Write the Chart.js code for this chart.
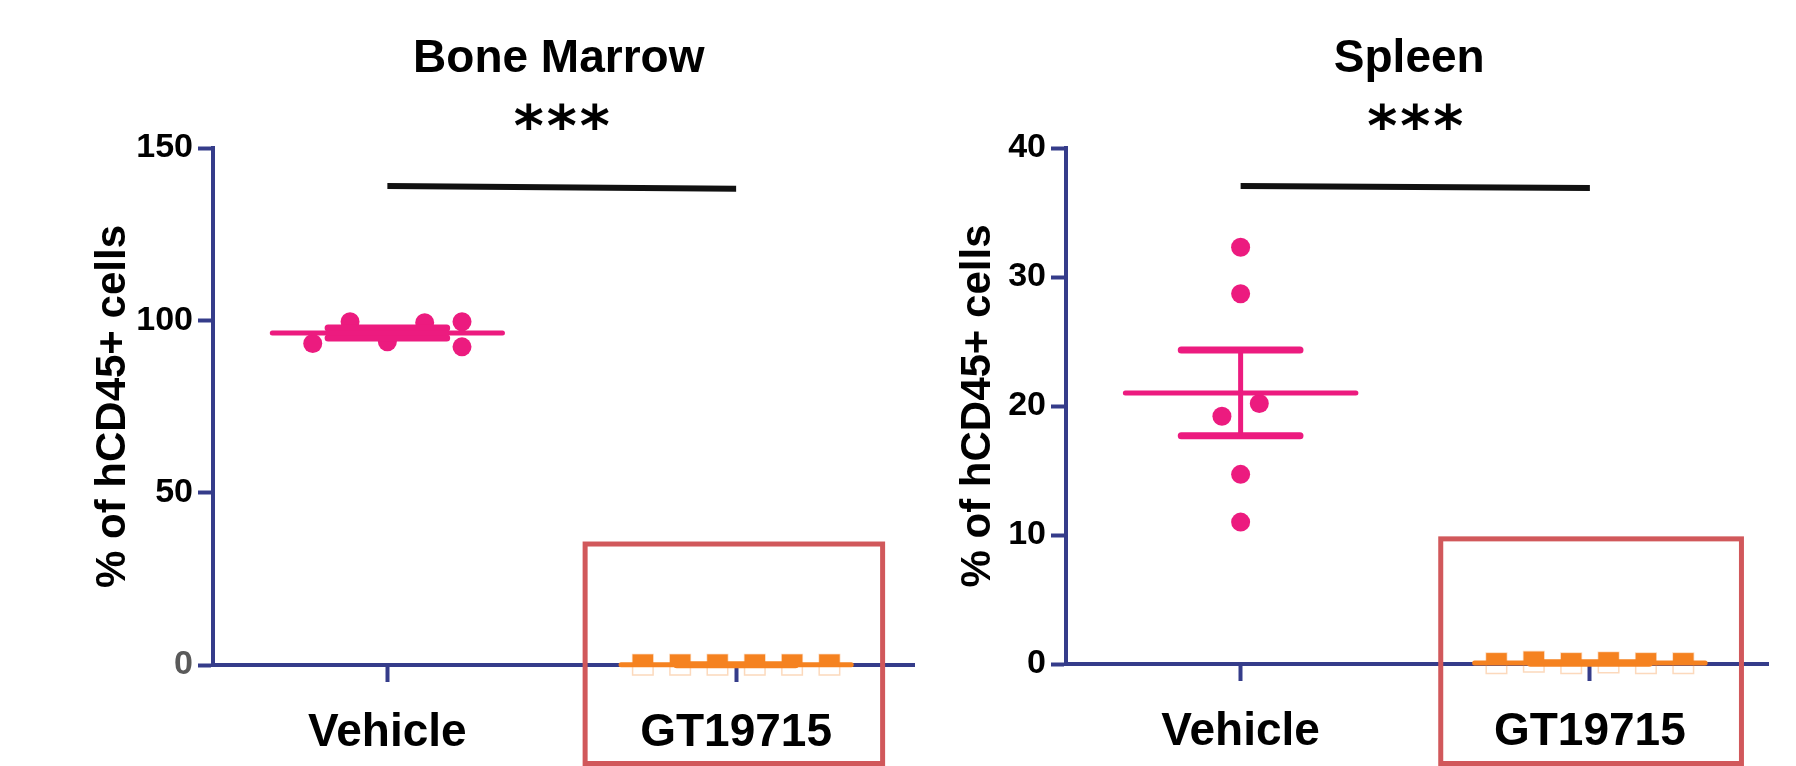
<!DOCTYPE html>
<html>
<head>
<meta charset="utf-8">
<script src="https://cdn.jsdelivr.net/npm/chart.js@4.4.1/dist/chart.umd.min.js"></script>
<style>
  html, body { margin: 0; padding: 0; background: #fff; }
  body { width: 1796px; height: 766px; position: relative; overflow: hidden; }
  canvas { position: absolute; top: 0; }
  #bm { left: 0; }
  #spleen { left: 930px; }
</style>
</head>
<body>
<canvas id="bm" width="930" height="766"></canvas>
<canvas id="spleen" width="866" height="766"></canvas>
<script>
const categories = ['Vehicle', 'GT19715'];

// Bone marrow, % of hCD45+ cells per mouse
const bmVehicle = [93.3, 99.6, 93.8, 99.3, 99.6, 92.3];
const bmGT = [0.1, 0.1, 0.1, 0.1, 0.1, 0.1];
const bmTicks = [0, 50, 100, 150];
const bmSignif = [139.0, 138.2];   // *** bar, height at each end

// Spleen
const spVehicle = [32.3, 28.7, 19.2, 20.2, 14.7, 11.0];
const spGT = [0.05, 0.17, 0.05, 0.12, 0.05, 0.05];
const spTicks = [0, 10, 20, 30, 40];
const spSignif = [37.05, 36.9];

// look
const PINK = '#ec1b7f';
const ORANGE = '#f58220';
const NAVY = '#353c8a';
const BOXRED = '#d1585b';
const FONT = '"Liberation Sans", Arial, sans-serif';

// horizontal scatter slots of the dots (Prism column scatter)
const SLOT = 0.107;
const bmVehicleSlots = [-2, -1, 0, 1, 2, 2];
const spVehicleSlots = [0, 0, -0.5, 0.5, 0, 0];
const gtSlots = [-2.5, -1.5, -0.5, 0.5, 1.5, 2.5];

Chart.defaults.font.family = FONT;
Chart.defaults.animation = false;

function mean(a) { return a.reduce((s, v) => s + v, 0) / a.length; }
function sem(a) {
  const m = mean(a);
  const sd = Math.sqrt(a.reduce((s, v) => s + (v - m) * (v - m), 0) / (a.length - 1));
  return sd / Math.sqrt(a.length);
}

function groupSets(values, cx, slots, color, marker) {
  const m = mean(values), e = sem(values);
  const line = {
    type: 'line', showLine: true, pointRadius: 0, borderColor: color,
    clip: false, spanGaps: false, borderCapStyle: 'round', order: 1
  };
  const sets = [
    { ...line, borderWidth: 5, data: [{ x: cx - 0.33, y: m }, { x: cx + 0.33, y: m }] },
    { ...line, borderWidth: 7, data: [
      { x: cx - 0.17, y: m + e }, { x: cx + 0.17, y: m + e }, { x: cx, y: null },
      { x: cx - 0.17, y: m - e }, { x: cx + 0.17, y: m - e }] },
    { ...line, borderWidth: 5, data: [{ x: cx, y: m - e }, { x: cx, y: m + e }] }
  ];
  const pts = values.map((v, i) => ({ x: cx + slots[i] * SLOT, y: v }));
  if (marker === 'circle') {
    sets.push({
      type: 'scatter', data: pts, pointStyle: 'circle', pointRadius: 9.5,
      pointBackgroundColor: color, pointBorderWidth: 0, clip: false, order: 2
    });
  } else {
    // faint outline of the part that falls under the axis
    sets.push({
      type: 'scatter', data: pts, pointStyle: 'rect', pointRadius: 14.5,
      pointBackgroundColor: 'rgba(0,0,0,0)', pointBorderColor: 'rgba(245,130,32,0.3)',
      pointBorderWidth: 1.5, clip: false, order: 4
    });
    sets.push({
      type: 'scatter', data: pts, pointStyle: 'rect', pointRadius: 14.5,
      pointBackgroundColor: color, pointBorderWidth: 0,
      clip: { left: false, right: false, top: false, bottom: 0 }, order: 3
    });
  }
  return sets;
}

function signifSet(ends) {
  return {
    type: 'line', data: [{ x: 0, y: ends[0] }, { x: 1, y: ends[1] }],
    borderColor: '#111', borderWidth: 6, pointRadius: 0, clip: false, order: 0
  };
}

const annotate = {
  id: 'annotate',
  afterDraw(chart, args, opts) {
    const { ctx, scales: { x, y } } = chart;
    const mid = (x.getPixelForValue(0) + x.getPixelForValue(1)) / 2;
    ctx.save();

    // highlight box round the treated group
    const l = x.getPixelForValue(opts.box[0]);
    const r = x.getPixelForValue(opts.box[1]);
    const t = y.getPixelForValue(opts.box[2]);
    ctx.strokeStyle = BOXRED;
    ctx.lineWidth = 5;
    ctx.strokeRect(l, t, r - l, chart.height - 2.5 - t);

    // panel title
    ctx.fillStyle = '#000';
    ctx.textAlign = 'center';
    ctx.textBaseline = 'alphabetic';
    ctx.font = 'bold 46px ' + FONT;
    ctx.fillText(opts.title, mid + opts.titleShift, 72);

    // asterisks, sized to 27px tall
    ctx.font = 'bold 100px "DejaVu Sans", sans-serif';
    let mt = ctx.measureText('*');
    const size = 27 * 100 / (mt.actualBoundingBoxAscent + mt.actualBoundingBoxDescent);
    ctx.font = 'bold ' + size + 'px "DejaVu Sans", sans-serif';
    mt = ctx.measureText('*');
    const base = 116.5 + (mt.actualBoundingBoxAscent - mt.actualBoundingBoxDescent) / 2;
    for (let i = -1; i <= 1; i++) ctx.fillText('*', mid + i * 33, base);
    ctx.restore();
  }
};

function makeChart(id, cfg) {
  return new Chart(document.getElementById(id), {
    type: 'scatter',
    data: {
      datasets: [
        signifSet(cfg.signif),
        ...groupSets(cfg.vehicle, 0, cfg.vehicleSlots, PINK, 'circle'),
        ...groupSets(cfg.gt, 1, gtSlots, ORANGE, 'rect')
      ]
    },
    options: {
      responsive: false,
      layout: { padding: { left: 0, right: cfg.padRight, top: 148, bottom: 0 } },
      plugins: {
        legend: { display: false },
        tooltip: { enabled: false },
        annotate: { title: cfg.title, titleShift: cfg.titleShift, box: cfg.box }
      },
      scales: {
        x: {
          type: 'linear', min: -0.5, max: 1.51,
          afterBuildTicks: s => { s.ticks = categories.map((c, i) => ({ value: i })); },
          afterFit: s => { s.height = cfg.xHeight; },
          grid: { drawOnChartArea: false, tickLength: 17, tickWidth: 4, tickColor: NAVY, color: NAVY },
          border: { display: true, color: NAVY, width: 4 },
          ticks: {
            callback: v => categories[v],
            color: '#000', padding: 24, maxRotation: 0, autoSkip: false,
            font: { size: 46, weight: 'bold' }
          }
        },
        y: {
          min: cfg.ticks[0], max: cfg.ticks[cfg.ticks.length - 1],
          afterBuildTicks: s => { s.ticks = cfg.ticks.map(v => ({ value: v })); },
          afterFit: s => { s.width = cfg.yWidth; },
          grid: { drawOnChartArea: false, tickLength: 15, tickWidth: 4, tickColor: NAVY, color: NAVY },
          border: { display: true, color: NAVY, width: 4 },
          ticks: {
            padding: 5,
            color: c => (cfg.greyZero && c.tick && c.tick.value === 0) ? '#5a5a5a' : '#000',
            font: { size: 34, weight: 'bold' }
          },
          title: {
            display: true, text: '% of hCD45+ cells', color: '#000',
            padding: { top: cfg.titlePad, bottom: 0 },
            font: { size: 42, weight: 'bold' }
          }
        }
      }
    },
    plugins: [annotate]
  });
}

makeChart('bm', {
  title: 'Bone Marrow', titleShift: -3,
  vehicle: bmVehicle, vehicleSlots: bmVehicleSlots, gt: bmGT,
  ticks: bmTicks, signif: bmSignif,
  box: [0.567, 1.42, 35.1],
  padRight: 10, yWidth: 213, xHeight: 101, titlePad: 88, greyZero: true
});

makeChart('spleen', {
  title: 'Spleen', titleShift: -6,
  vehicle: spVehicle, vehicleSlots: spVehicleSlots, gt: spGT,
  ticks: spTicks, signif: spSignif,
  box: [0.573, 1.434, 9.7],
  padRight: 28, yWidth: 136, xHeight: 102, titlePad: 23, greyZero: false
});
</script>
</body>
</html>
